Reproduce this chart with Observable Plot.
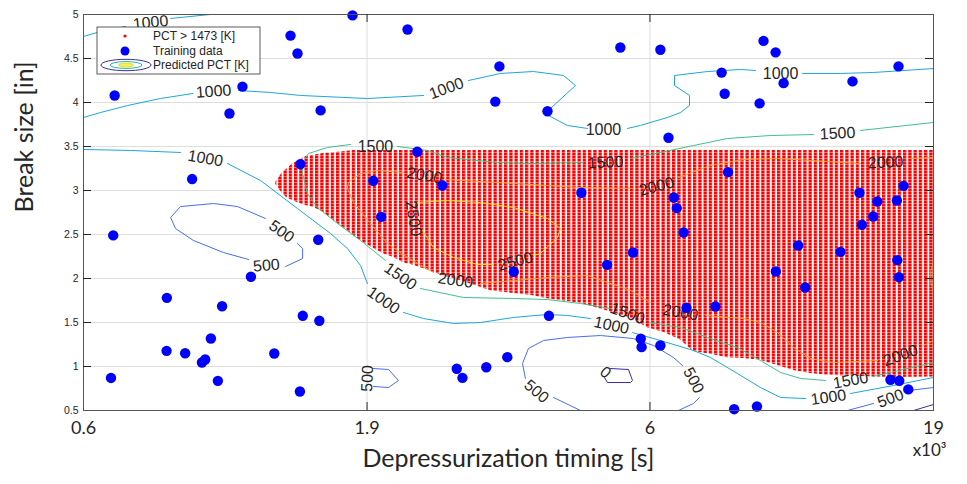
<!DOCTYPE html>
<html><head><meta charset="utf-8">
<script src="https://cdn.jsdelivr.net/npm/d3@7"></script>
<script src="https://cdn.jsdelivr.net/npm/@observablehq/plot@0.6"></script>
<style>body{margin:0;background:#fff}</style>
</head><body><div id="chart"></div>
<script>
// ---------- data ----------
const xTicks = [0.6, 1.9, 6, 19];
const xTickLabels = ["0.6", "1.9", "6", "19"];
const yTicks = [0.5, 1, 1.5, 2, 2.5, 3, 3.5, 4, 4.5, 5];
const yTickLabels = ["0.5", "1", "1.5", "2", "2.5", "3", "3.5", "4", "4.5", "5"];

// training data (depressurization timing x1e3 s, break size in)
const trainX = [0.681,1.086,1.145,1.392,1.432,1.573,1.791,2.24,3.254,3.20,3.956,5.32,6.26,6.47,8.03,8.13,9.52,10.0,9.37,10.33,13.67,16.48,
  1.449,0.933,0.677,1.558,1.185,1.949,2.012,0.842,1.054,1.463,1.565,1.007,0.841,0.907,0.984,0.971,1.303,0.671,1.036,1.446,
  2.33,2.58,4.54,6.61,6.69,5.60,5.04,3.45,8.24,6.88,14.06,15.12,16.82,16.37,14.87,14.20,10.96,13.02,10.01,11.28,16.40,16.51,
  6.96,7.83,6.26,8.45,9.27,15.95,16.53,17.15,3.98,5.78,5.80,3.36,3.085,2.736,2.80];
const trainY = [4.08,3.875,4.18,4.76,4.557,3.91,4.99,4.83,4.41,4.01,3.90,4.625,4.60,3.60,4.34,4.10,4.70,4.57,3.99,4.22,4.24,4.41,
  3.30,3.13,2.49,2.44,2.02,3.11,2.70,1.78,1.685,1.576,1.52,1.318,1.178,1.15,1.08,1.045,1.148,0.87,0.837,0.716,
  3.44,3.057,2.974,2.92,2.80,2.295,2.155,2.076,3.208,2.523,2.974,2.875,3.053,2.886,2.705,2.61,2.375,2.303,2.08,1.898,2.208,2.015,
  1.667,1.682,1.239,0.515,0.545,0.849,0.838,0.74,1.576,1.315,1.22,1.106,0.992,0.974,0.871];

// region where predicted PCT > 1473 K
const redX    = [1.31,1.346,1.375,1.403,1.432,1.48,1.528,1.592,1.658,1.726,1.798,1.873,1.95,2.031,2.116,2.203,2.295,2.39,2.489,2.593,2.7,3.013,3.139,3.445,3.692,3.957,4.525,5.174,5.545,5.941,6.34,6.794,7.162,7.676,8.224,8.777,9.404,10.077,10.755,11.525,12.35,14.118,16.15,19];
const redLow  = [3.07,2.97,2.91,2.89,2.86,2.83,2.81,2.75,2.66,2.58,2.49,2.41,2.34,2.28,2.24,2.18,2.15,2.11,2.07,2.03,2.0,1.90,1.86,1.83,1.81,1.77,1.72,1.61,1.55,1.44,1.39,1.30,1.17,1.14,1.10,1.09,1.07,1.01,0.955,0.92,0.90,0.886,0.875,0.88];
const redHigh = [3.09,3.20,3.25,3.30,3.33,3.386,3.40,3.42,3.43,3.44,3.455,3.455,3.455,3.455,3.455,3.455,3.455,3.455,3.455,3.455,3.455,3.455,3.455,3.455,3.455,3.455,3.455,3.455,3.455,3.455,3.455,3.455,3.455,3.455,3.455,3.455,3.455,3.455,3.455,3.455,3.455,3.455,3.455,3.455];

// predicted PCT contour lines [x, y] per segment
const contour0 = [
  [[5.111,0.977],[5.499,0.966],[5.589,0.841],[5.544,0.818],[5.049,0.818],[4.987,0.875]],
  [[17.518,0.5],[19,0.568]]
];
const contour500 = [
  [[1.432,2.398],[1.462,2.341],[1.462,2.227],[1.364,2.136]],
  [[1.174,2.216],[1.060,2.295],[0.938,2.432],[0.872,2.568],[0.855,2.693],[0.890,2.818],[1.018,2.852],[1.122,2.818],[1.257,2.682]],
  [[1.950,0.977],[2.073,0.966],[2.159,0.841],[2.073,0.761],[1.950,0.773]],
  [[4.524,0.5],[4.054,0.648]],
  [[3.617,0.864],[3.574,1.034],[3.662,1.205],[3.892,1.295],[4.291,1.330],[4.907,1.352],[5.611,1.318],[6.087,1.239],[6.603,1.102],[6.849,1.011]],
  [[7.339,0.648],[7.162,0.580],[6.739,0.5]],
  [[13.395,0.5],[14.889,0.58]],
  [[17.167,0.727],[19,0.761]]
];
const contour1000 = [
  [[0.6,4.75],[0.643,4.807],[0.712,4.864]],
  [[0.855,4.955],[1.005,5.0]],
  [[0.6,3.83],[0.643,3.886],[0.718,3.966],[0.820,4.045],[0.935,4.102]],
  [[1.127,4.136],[1.283,4.114],[1.450,4.08],[1.903,4.045],[2.390,4.08]],
  [[2.870,4.25],[3.268,4.33],[3.737,4.352],[4.222,4.307],[4.433,4.193],[4.004,3.932],[3.972,3.852],[4.291,3.739],[4.654,3.705]],
  [[5.476,3.705],[5.773,3.739],[6.444,3.83],[6.794,3.886],[7.047,3.966],[7.047,4.08],[6.630,4.193],[6.630,4.307],[7.582,4.352],[8.672,4.375],[9.216,4.364]],
  [[11.156,4.33],[13.02,4.33],[14.889,4.341],[19,4.386]],
  [[0.6,3.466],[0.726,3.455],[0.890,3.432]],
  [[1.077,3.307],[1.232,3.114],[1.432,2.795],[1.638,2.511],[1.754,2.341],[1.850,2.148],[1.903,1.943]],
  [[2.203,1.614],[2.390,1.545],[2.700,1.489],[3.013,1.5],[3.445,1.557],[3.956,1.591],[4.291,1.580],[4.711,1.545]],
  [[5.589,1.386],[6.263,1.295],[7.162,1.182],[7.676,1.102],[8.566,0.92],[9.405,0.761],[10.203,0.648],[11.293,0.636]],
  [[13.56,0.693],[16.150,0.784],[19,0.875]]
];
const contour1500 = [
  [[19,3.773],[14.123,3.682]],
  [[11.666,3.636],[9.795,3.625],[8.225,3.591],[7.162,3.511],[6.263,3.432],[5.544,3.364]],
  [[4.579,3.318],[3.692,3.307],[3.228,3.318],[2.635,3.375],[2.429,3.455],[2.150,3.5]],
  [[1.776,3.523],[1.618,3.489],[1.497,3.42],[1.462,3.318],[1.462,3.193],[1.491,2.966],[1.553,2.807],[1.685,2.625],[1.850,2.432],[2.048,2.205]],
  [[2.361,1.886],[2.812,1.784],[3.445,1.773],[3.956,1.761],[4.524,1.716],[5.111,1.659]],
  [[6.013,1.5],[6.794,1.443],[7.676,1.318],[8.566,1.216],[9.405,1.068],[10.203,0.932],[11.066,0.864],[12.25,0.841]],
  [[14.828,0.886],[19,1.045]]
];
const contour2000 = [
  [[19,3.375],[17.167,3.364]],
  [[14.123,3.307],[11.525,3.341],[10.079,3.364],[8.777,3.352],[7.676,3.284],[6.739,3.148]],
  [[5.611,3.023],[4.524,3.034],[3.445,3.08],[2.613,3.125]],
  [[2.203,3.205],[1.982,3.227],[1.850,3.193],[1.762,3.091],[1.754,3.023],[1.798,2.864],[1.926,2.625],[2.064,2.398],[2.239,2.239],[2.489,2.068]],
  [[3.013,1.943],[3.956,2.011],[4.654,2.034],[5.544,1.864],[6.013,1.727]],
  [[7.521,1.580],[8.777,1.545],[9.405,1.5],[10.079,1.386],[10.755,1.216],[11.525,1.091],[12.654,1.045],[15.133,1.068]],
  [[18.245,1.239],[19,1.295]],
  [[19,2.19],[18.8,2.09],[18.8,1.95],[19,1.86]]
];
const contour2500 = [
  [[2.333,2.864],[2.635,2.886],[3.013,2.864],[3.445,2.807],[3.956,2.682],[4.171,2.568],[4.120,2.466],[3.845,2.284],[3.737,2.261]],
  [[3.176,2.159],[2.976,2.159],[2.700,2.239],[2.489,2.352],[2.381,2.545]]
];
// contour labels: [text, x, y, rotation]
const contourLabels = [
  ["1000",0.788,4.909,-6],["1000",1.018,4.125,-4],["1000",2.624,4.159,-20],["1000",4.967,3.693,0],["1000",10.203,4.330,0],
  ["1000",0.985,3.364,10],["1000",2.031,1.75,35],["1000",5.131,1.466,12],["1000",12.40,0.648,-8],
  ["500",1.262,2.148,-5],["500",1.342,2.534,35],["500",1.903,0.864,-88],["500",3.783,0.716,40],["500",7.162,0.841,62],["500",15.955,0.636,-20],
  ["0",5.008,0.932,40],
  ["1500",12.862,3.648,-3],["1500",5.008,3.318,-3],["1500",1.966,3.5,0],["1500",2.176,2.023,35],["1500",5.476,1.602,20],["1500",13.56,0.841,-10],
  ["2000",15.634,3.318,-3],["2000",6.162,3.045,-15],["2000",2.4,3.17,10],["2000",2.722,1.977,8],["2000",6.794,1.614,10],["2000",16.617,1.125,-20],
  ["2500",3.473,2.193,-15],["2500",2.295,2.682,80]
];

// ---------- build ----------
const training = trainX.map((x, i) => ({x, y: trainY[i]}));
const redRows = redX.map((x, i) => ({x, lo: redLow[i], hi: redHigh[i]}));
const rows = segs => segs.flatMap((s, i) => s.map(([x, y]) => ({x, y, seg: i})));
const labelRows = contourLabels.map(([t, x, y, r]) => ({t, x, y, r}));
const contourSets = [
  [contour0, "#3b2c9e"], [contour500, "#4a6df0"], [contour1000, "#1ea6dc"],
  [contour1500, "#3fc08c"], [contour2000, "#f2a43a"], [contour2500, "#ecdf1e"]
];
const tickColor = "#262626";
const frameH = 484 - 14 - 74, frameW = 967 - 83 - 34, tickLen = 8;

const chart = Plot.plot({
  width: 967, height: 484,
  marginLeft: 83, marginRight: 34, marginTop: 14, marginBottom: 74,
  style: {fontFamily: "'Liberation Sans', Arial, sans-serif", background: "#fff", color: tickColor, overflow: "visible"},
  x: {type: "log", domain: [0.6, 19], axis: null},
  y: {domain: [0.5, 5], axis: null},
  marks: [
    Plot.gridX(xTicks.slice(1, -1), {stroke: "#dedede", strokeOpacity: 1}),
    Plot.gridY(yTicks, {stroke: "#dedede", strokeOpacity: 1}),
    Plot.areaY(redRows, {x: "x", y1: "lo", y2: "hi", fill: "url(#redStripes)", curve: "linear"}),
    ...contourSets.map(([segs, c]) => Plot.line(rows(segs), {x: "x", y: "y", z: "seg", stroke: c, strokeWidth: 1, curve: "linear"})),
    Plot.text(labelRows, {x: "x", y: "y", text: "t", rotate: "r", fontSize: 16, fill: "#262626"}),
    Plot.dot(training, {x: "x", y: "y", r: 5.2, fill: "#0000ff", stroke: null}),
    Plot.frame({stroke: "#555", strokeWidth: 1}),
    Plot.tickX(xTicks.slice(1, -1), {x: d => d, insetTop: frameH - tickLen, stroke: tickColor}),
    Plot.tickX(xTicks.slice(1, -1), {x: d => d, insetBottom: frameH - tickLen, stroke: tickColor}),
    Plot.tickY(yTicks.slice(1, -1), {y: d => d, insetRight: frameW - tickLen, stroke: tickColor}),
    Plot.tickY(yTicks.slice(1, -1), {y: d => d, insetLeft: frameW - tickLen, stroke: tickColor}),
    Plot.text(xTicks, {x: d => d, frameAnchor: "bottom", dy: 23, text: (d, i) => xTickLabels[i], fontSize: 18, fontFamily: "Lato", fill: tickColor}),
    Plot.text(yTicks, {y: d => d, frameAnchor: "left", dx: -5, textAnchor: "end", text: (d, i) => yTickLabels[i], fontSize: 10.5, fill: tickColor}),
    Plot.text(["Depressurization timing [s]"], {frameAnchor: "bottom", dy: 56, fontSize: 25, fontFamily: "Lato", fill: tickColor}),
    Plot.text(["x10³"], {frameAnchor: "bottom-right", dx: 13, dy: 45, fontSize: 17, fontFamily: "Lato", fill: tickColor}),
    Plot.text(["Break size [in]"], {frameAnchor: "left", dx: -59, rotate: -90, fontSize: 25, fontFamily: "Lato", fill: tickColor})
  ]
});

// pattern for the red dotted region
const svg = d3.select(chart);
const defs = svg.insert("defs", ":first-child");
const pat = defs.append("pattern").attr("id", "redStripes").attr("patternUnits", "userSpaceOnUse")
  .attr("x", 0).attr("y", 0).attr("width", 5.25).attr("height", 3);
pat.append("rect").attr("x", 0).attr("y", 0).attr("width", 3.3).attr("height", 2.6).attr("fill", "#ff0000");

// legend box
const lg = svg.append("g").attr("font-family", "'Liberation Sans', Arial, sans-serif").attr("font-size", 12)
  .attr("fill", "#262626").attr("text-anchor", "start");
lg.append("rect").attr("x", 97).attr("y", 27).attr("width", 163).attr("height", 47).attr("fill", "#fff").attr("stroke", "#333").attr("stroke-width", 0.8);
lg.append("circle").attr("cx", 125).attr("cy", 36).attr("r", 1.6).attr("fill", "#ff0000");
lg.append("circle").attr("cx", 125).attr("cy", 51).attr("r", 4.5).attr("fill", "#0000ff");
lg.append("ellipse").attr("cx", 126).attr("cy", 65).attr("rx", 25).attr("ry", 5.7).attr("fill", "none").attr("stroke", "#3b2c9e");
lg.append("ellipse").attr("cx", 126).attr("cy", 65).attr("rx", 16).attr("ry", 3.4).attr("fill", "none").attr("stroke", "#20b0b8");
lg.append("ellipse").attr("cx", 126).attr("cy", 65).attr("rx", 7.5).attr("ry", 1.8).attr("fill", "#f5ee60").attr("stroke", "#ecdf1e");
[["PCT > 1473 [K]", 36], ["Training data", 51], ["Predicted PCT [K]", 65]].forEach(([t, y]) =>
  lg.append("text").attr("x", 153).attr("y", y).attr("dy", "0.35em").attr("text-anchor", "start").text(t));

document.getElementById("chart").appendChild(chart);
</script>
</body></html>
